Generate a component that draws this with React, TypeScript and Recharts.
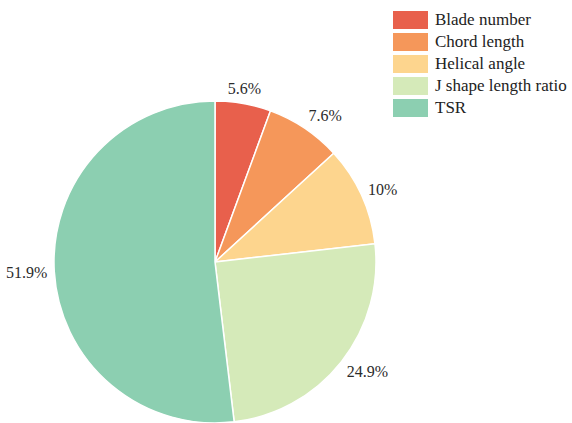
import React from "react";
import { PieChart, Pie, Cell, Legend } from "recharts";

const names = [
  "Blade number",
  "Chord length",
  "Helical angle",
  "J shape length ratio",
  "TSR",
];
const shares = [5.6, 7.6, 10, 24.9, 51.9];
const colors = ["#E8604C", "#F5975A", "#FDD58E", "#D5EAB9", "#8CCFB1"];

const data = names.map((name, i) => ({ name, value: shares[i] }));

const FONT = "'Liberation Serif', 'Times New Roman', 'DejaVu Serif', serif";
const RAD = Math.PI / 180;

// rough text width for 16px serif
const textWidth = (s: string) =>
  s.split("").reduce((w, c) => w + (c === "." ? 4 : c === "%" ? 13.3 : 8), 0);

function renderLabel(props: any) {
  const { cx, cy, midAngle, outerRadius, value } = props;
  const r = outerRadius + 7;
  const cos = Math.cos(midAngle * RAD);
  const sin = Math.sin(midAngle * RAD);
  const txt = `${value}%`;
  const w = textWidth(txt);
  const h = 16;
  const sx = Math.abs(cos) < 0.3 ? 0 : Math.sign(cos);
  const x = cx + r * cos + (w / 2) * sx;
  const y = cy - r * sin - (h / 2) * sin;
  return (
    <text
      x={x}
      y={y}
      textAnchor="middle"
      dominantBaseline="central"
      fill="#2b2b2b"
      fontSize={16}
      fontFamily={FONT}
    >
      {txt}
    </text>
  );
}

function LegendBox() {
  return (
    <div style={{ fontFamily: FONT, fontSize: 17, color: "#222" }}>
      {names.map((n, i) => (
        <div
          key={n}
          style={{ display: "flex", alignItems: "center", height: 22 }}
        >
          <span
            style={{
              display: "inline-block",
              width: 35,
              height: 18,
              background: colors[i],
              marginRight: 7,
            }}
          />
          <span>{n}</span>
        </div>
      ))}
    </div>
  );
}

export default function App() {
  return (
    <div style={{ position: "absolute", left: 0, top: 0, background: "#fff" }}>
      <PieChart
        width={572}
        height={423}
        margin={{ top: 0, right: 0, bottom: 0, left: 0 }}
      >
        <Pie
          data={data}
          dataKey="value"
          nameKey="name"
          cx={215}
          cy={262}
          outerRadius={161}
          startAngle={90}
          endAngle={-270}
          stroke="#fff"
          strokeWidth={1.5}
          label={renderLabel}
          labelLine={false}
          isAnimationActive={false}
        >
          {data.map((_, i) => (
            <Cell key={i} fill={colors[i]} />
          ))}
        </Pie>
        <Legend
          layout="vertical"
          align="right"
          verticalAlign="top"
          content={() => <LegendBox />}
          wrapperStyle={{ left: 393, top: 9, width: 180 }}
        />
      </PieChart>
    </div>
  );
}
